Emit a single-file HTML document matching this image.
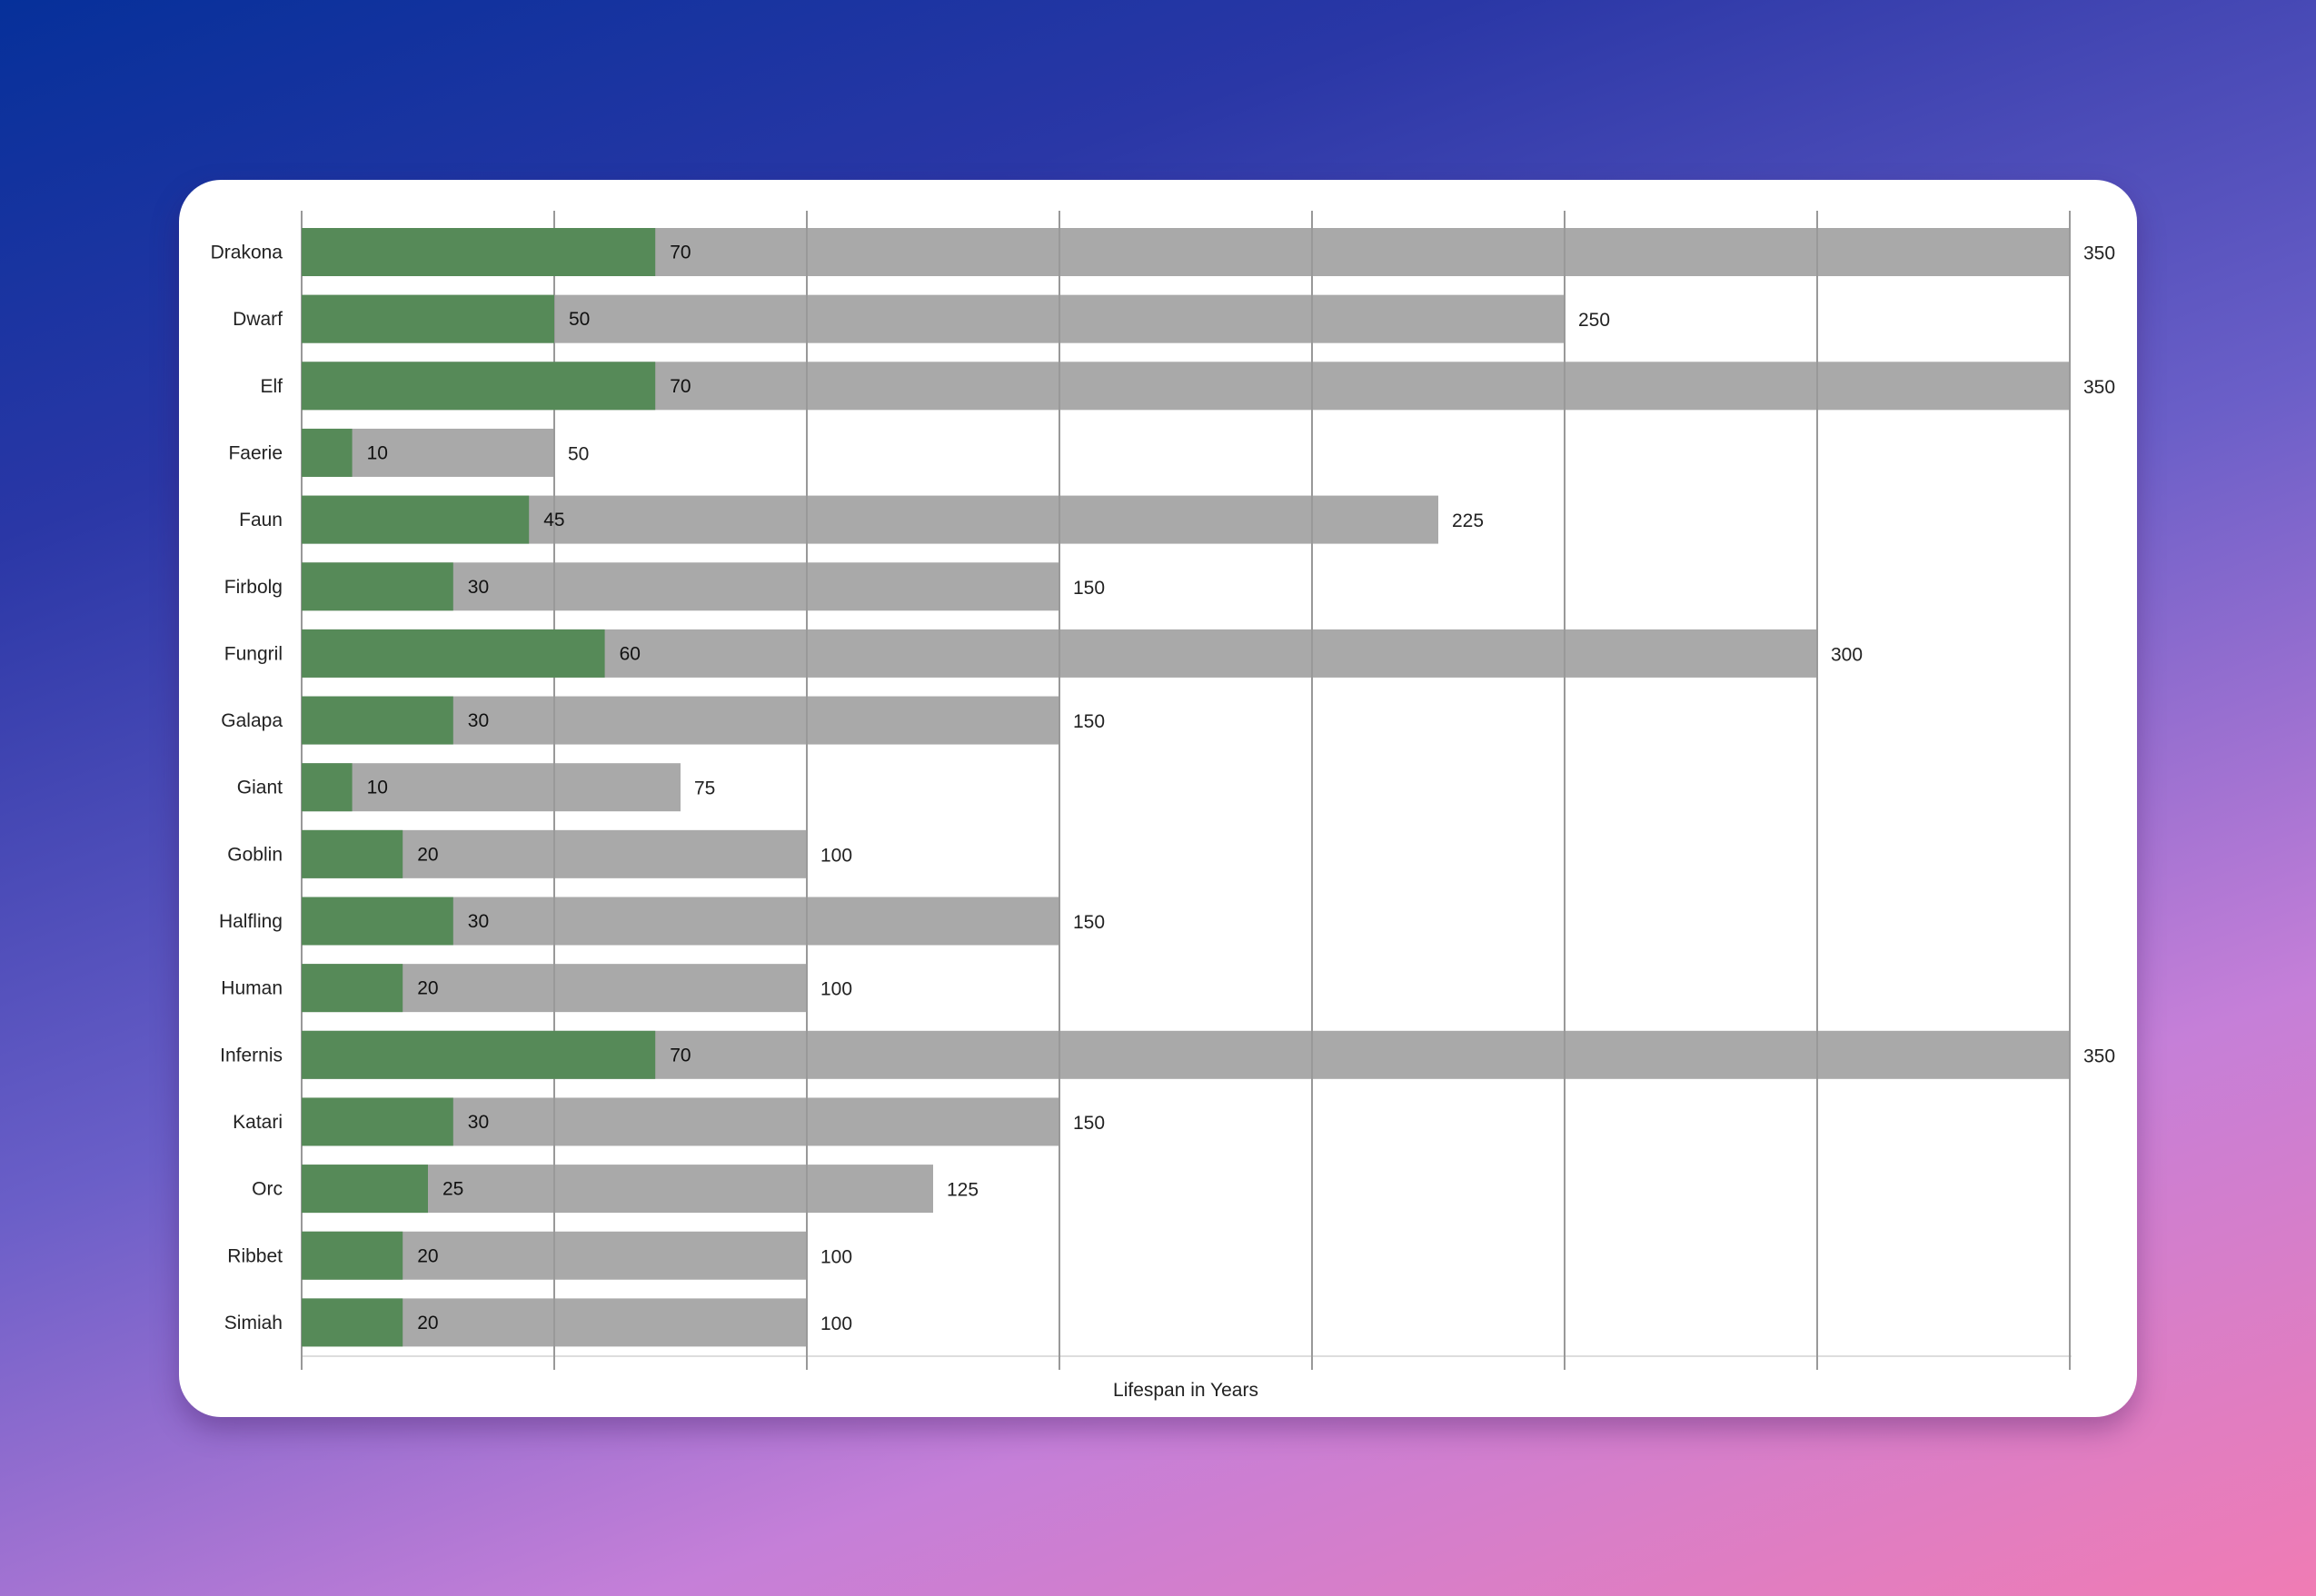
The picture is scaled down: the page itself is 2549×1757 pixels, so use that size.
<!DOCTYPE html>
<html><head><meta charset="utf-8"><style>
html,body{margin:0;padding:0}
body{width:2549px;height:1757px;overflow:hidden;background:linear-gradient(160deg,#06309a 0%,#2a37a6 22%,#6b5fc8 50%,#c57fd8 75%,#f07cb4 100%);position:relative;font-family:"Liberation Sans",sans-serif}
.card{position:absolute;left:197px;top:198px;width:2155px;height:1362px;background:#fff;border-radius:46px;box-shadow:0 14px 30px rgba(60,20,90,0.35)}
svg{position:absolute;left:0;top:0}
</style></head><body>
<div class="card"></div>
<svg width="2549" height="1757" xmlns="http://www.w3.org/2000/svg" font-family="Liberation Sans, sans-serif">
<g id="gray"></g>
<g id="grid"></g>
<g id="bars"></g>
<text x="1305" y="1537" font-size="21" fill="#222" text-anchor="middle">Lifespan in Years</text>
</svg>
<script>
const data=[["Drakona",70,350],["Dwarf",50,250],["Elf",70,350],["Faerie",10,50],["Faun",45,225],["Firbolg",30,150],["Fungril",60,300],["Galapa",30,150],["Giant",10,75],["Goblin",20,100],["Halfling",30,150],["Human",20,100],["Infernis",70,350],["Katari",30,150],["Orc",25,125],["Ribbet",20,100],["Simiah",20,100]];
const x0=332,k=5.56;
let g="",b="",gr="";
g+=`<line x1="${x0}" y1="1493" x2="2280" y2="1493" stroke="#ddd" stroke-width="2"/>`;
for(let v=0;v<=350;v+=50){const x=x0+v*k;g+=`<line x1="${x}" y1="232" x2="${x}" y2="1508" stroke="#999" stroke-width="2"/>`;}
data.forEach((d,i)=>{const top=251+i*73.65,cy=top+26.5;
gr+=`<rect x="${x0}" y="${top}" width="${d[2]*k}" height="53" fill="#a9a9a9"/>`;
b+=`<rect x="${x0}" y="${top}" width="${d[1]*k}" height="53" fill="#568a58"/>`;
b+=`<text x="311" y="${cy+7}" font-size="21" fill="#222" text-anchor="end">${d[0]}</text>`;
b+=`<text x="${x0+d[1]*k+16}" y="${cy+7}" font-size="21" fill="#111">${d[1]}</text>`;
b+=`<text x="${x0+d[2]*k+15}" y="${cy+8}" font-size="21" fill="#222">${d[2]}</text>`;});
document.getElementById("gray").innerHTML=gr;
document.getElementById("grid").innerHTML=g;
document.getElementById("bars").innerHTML=b;
</script>
</body></html>
